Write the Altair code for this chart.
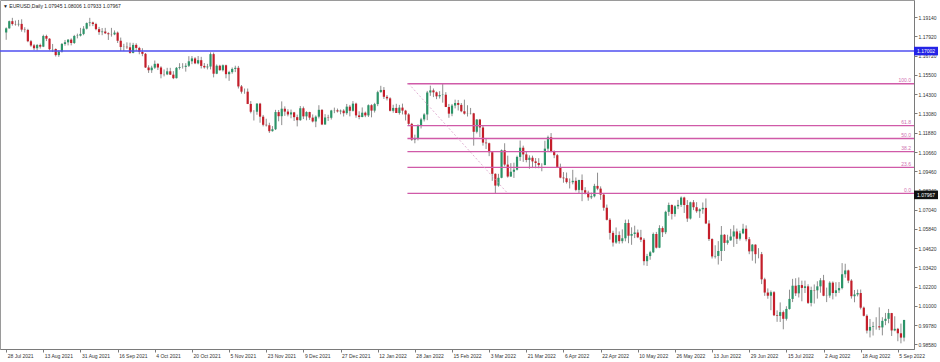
import altair as alt
import pandas as pd

# ---- EURUSD daily candles (open, high, low, close), 28 Jul 2021 .. 7 Sep 2022 ----
jul21 = [
    (1.1817, 1.1849, 1.1771, 1.1843), (1.1843, 1.1892, 1.1841, 1.1888), (1.1888, 1.1909, 1.1860, 1.1870),
]
aug21 = [
    (1.1870, 1.1892, 1.1860, 1.1868), (1.1868, 1.1896, 1.1855, 1.1871), (1.1871, 1.1900, 1.1822, 1.1835),
    (1.1835, 1.1850, 1.1817, 1.1833), (1.1833, 1.1840, 1.1756, 1.1762), (1.1762, 1.1770, 1.1727, 1.1736),
    (1.1736, 1.1745, 1.1706, 1.1718), (1.1718, 1.1745, 1.1704, 1.1738), (1.1738, 1.1747, 1.1716, 1.1728),
    (1.1728, 1.1803, 1.1725, 1.1795), (1.1795, 1.1803, 1.1763, 1.1778), (1.1778, 1.1781, 1.1705, 1.1712),
    (1.1712, 1.1745, 1.1694, 1.1713), (1.1713, 1.1717, 1.1666, 1.1675), (1.1675, 1.1705, 1.1664, 1.1697),
    (1.1697, 1.1751, 1.1691, 1.1745), (1.1745, 1.1770, 1.1734, 1.1755), (1.1755, 1.1775, 1.1736, 1.1772),
    (1.1772, 1.1780, 1.1736, 1.1751), (1.1751, 1.1802, 1.1745, 1.1795), (1.1795, 1.1810, 1.1780, 1.1797),
    (1.1797, 1.1846, 1.1792, 1.1808),
]
sep21 = [
    (1.1808, 1.1857, 1.1800, 1.1841), (1.1841, 1.1880, 1.1836, 1.1876), (1.1876, 1.1909, 1.1856, 1.1880),
    (1.1880, 1.1885, 1.1857, 1.1870), (1.1870, 1.1878, 1.1831, 1.1838), (1.1838, 1.1852, 1.1802, 1.1819),
    (1.1819, 1.1845, 1.1800, 1.1823), (1.1823, 1.1846, 1.1807, 1.1812), (1.1812, 1.1818, 1.1770, 1.1806),
    (1.1806, 1.1846, 1.1791, 1.1805), (1.1805, 1.1830, 1.1800, 1.1816), (1.1816, 1.1823, 1.1751, 1.1765),
    (1.1765, 1.1785, 1.1700, 1.1726), (1.1726, 1.1746, 1.1700, 1.1727), (1.1727, 1.1755, 1.1713, 1.1724),
    (1.1724, 1.1753, 1.1684, 1.1689), (1.1689, 1.1752, 1.1686, 1.1739), (1.1739, 1.1749, 1.1701, 1.1720),
    (1.1720, 1.1727, 1.1680, 1.1695), (1.1695, 1.1718, 1.1668, 1.1683), (1.1683, 1.1688, 1.1594, 1.1597),
    (1.1597, 1.1611, 1.1563, 1.1580),
]
oct21 = [
    (1.1580, 1.1608, 1.1563, 1.1596), (1.1596, 1.1641, 1.1588, 1.1620), (1.1620, 1.1624, 1.1581, 1.1597),
    (1.1597, 1.1605, 1.1529, 1.1555), (1.1555, 1.1585, 1.1541, 1.1554), (1.1554, 1.1595, 1.1549, 1.1573),
    (1.1573, 1.1595, 1.1550, 1.1552), (1.1552, 1.1574, 1.1524, 1.1530), (1.1530, 1.1600, 1.1528, 1.1595),
    (1.1595, 1.1624, 1.1584, 1.1600), (1.1600, 1.1624, 1.1590, 1.1601), (1.1601, 1.1624, 1.1571, 1.1608),
    (1.1608, 1.1668, 1.1600, 1.1636), (1.1636, 1.1669, 1.1618, 1.1654), (1.1654, 1.1662, 1.1618, 1.1623),
    (1.1623, 1.1669, 1.1617, 1.1643), (1.1643, 1.1664, 1.1591, 1.1607), (1.1607, 1.1625, 1.1590, 1.1598),
    (1.1598, 1.1620, 1.1585, 1.1603), (1.1603, 1.1692, 1.1585, 1.1681), (1.1681, 1.1691, 1.1535, 1.1558),
]
nov21 = [
    (1.1558, 1.1616, 1.1555, 1.1608), (1.1608, 1.1614, 1.1577, 1.1580), (1.1580, 1.1616, 1.1572, 1.1611),
    (1.1611, 1.1615, 1.1529, 1.1555), (1.1555, 1.1576, 1.1513, 1.1568), (1.1568, 1.1597, 1.1558, 1.1588),
    (1.1588, 1.1608, 1.1568, 1.1595), (1.1595, 1.1607, 1.1465, 1.1478), (1.1478, 1.1487, 1.1433, 1.1445),
    (1.1445, 1.1465, 1.1432, 1.1445), (1.1445, 1.1465, 1.1367, 1.1368), (1.1368, 1.1386, 1.1309, 1.1319),
    (1.1319, 1.1329, 1.1264, 1.1319), (1.1319, 1.1373, 1.1300, 1.1370), (1.1370, 1.1375, 1.1250, 1.1288),
    (1.1288, 1.1299, 1.1227, 1.1237), (1.1237, 1.1275, 1.1226, 1.1234), (1.1234, 1.1250, 1.1186, 1.1197),
    (1.1197, 1.1229, 1.1194, 1.1209), (1.1209, 1.1331, 1.1204, 1.1317), (1.1317, 1.1330, 1.1259, 1.1291),
    (1.1291, 1.1384, 1.1235, 1.1338),
]
dec21 = [
    (1.1338, 1.1353, 1.1293, 1.1320), (1.1320, 1.1335, 1.1290, 1.1302), (1.1302, 1.1333, 1.1278, 1.1315),
    (1.1315, 1.1318, 1.1261, 1.1285), (1.1285, 1.1301, 1.1227, 1.1266), (1.1266, 1.1355, 1.1262, 1.1341),
    (1.1341, 1.1352, 1.1273, 1.1290), (1.1290, 1.1322, 1.1265, 1.1317), (1.1317, 1.1319, 1.1268, 1.1282),
    (1.1282, 1.1302, 1.1252, 1.1258), (1.1258, 1.1296, 1.1222, 1.1288), (1.1288, 1.1360, 1.1277, 1.1331),
    (1.1331, 1.1335, 1.1235, 1.1239), (1.1239, 1.1304, 1.1237, 1.1283), (1.1283, 1.1300, 1.1261, 1.1281),
    (1.1281, 1.1331, 1.1270, 1.1327), (1.1327, 1.1345, 1.1310, 1.1328), (1.1328, 1.1339, 1.1314, 1.1321),
    (1.1321, 1.1333, 1.1303, 1.1326), (1.1326, 1.1335, 1.1289, 1.1310), (1.1310, 1.1368, 1.1300, 1.1351),
    (1.1351, 1.1362, 1.1290, 1.1325), (1.1325, 1.1386, 1.1320, 1.1370),
]
jan22 = [
    (1.1370, 1.1376, 1.1281, 1.1296), (1.1296, 1.1322, 1.1272, 1.1286), (1.1286, 1.1346, 1.1284, 1.1313),
    (1.1313, 1.1320, 1.1285, 1.1296), (1.1296, 1.1365, 1.1286, 1.1360), (1.1360, 1.1366, 1.1284, 1.1326),
    (1.1326, 1.1375, 1.1314, 1.1367), (1.1367, 1.1451, 1.1354, 1.1442), (1.1442, 1.1482, 1.1439, 1.1456),
    (1.1456, 1.1474, 1.1399, 1.1413), (1.1413, 1.1424, 1.1390, 1.1403), (1.1403, 1.1410, 1.1321, 1.1325),
    (1.1325, 1.1363, 1.1313, 1.1343), (1.1343, 1.1369, 1.1311, 1.1311), (1.1311, 1.1362, 1.1301, 1.1345),
    (1.1345, 1.1370, 1.1302, 1.1326), (1.1326, 1.1331, 1.1264, 1.1302), (1.1302, 1.1310, 1.1235, 1.1243),
    (1.1243, 1.1249, 1.1136, 1.1144), (1.1144, 1.1175, 1.1121, 1.1148), (1.1148, 1.1240, 1.1139, 1.1235),
]
feb22 = [
    (1.1235, 1.1281, 1.1214, 1.1271), (1.1271, 1.1310, 1.1258, 1.1302), (1.1302, 1.1450, 1.1266, 1.1440),
    (1.1440, 1.1483, 1.1419, 1.1453), (1.1453, 1.1465, 1.1411, 1.1441), (1.1441, 1.1446, 1.1398, 1.1416),
    (1.1416, 1.1448, 1.1402, 1.1424), (1.1424, 1.1495, 1.1376, 1.1426), (1.1426, 1.1442, 1.1348, 1.1349),
    (1.1349, 1.1368, 1.1281, 1.1307), (1.1307, 1.1368, 1.1291, 1.1358), (1.1358, 1.1395, 1.1340, 1.1374),
    (1.1374, 1.1393, 1.1327, 1.1362), (1.1362, 1.1374, 1.1316, 1.1322), (1.1322, 1.1395, 1.1301, 1.1307),
    (1.1307, 1.1360, 1.1289, 1.1308), (1.1308, 1.1343, 1.1302, 1.1309), (1.1309, 1.1312, 1.1106, 1.1193),
    (1.1193, 1.1273, 1.1183, 1.1270), (1.1270, 1.1274, 1.1160, 1.1220),
]
mar22 = [
    (1.1220, 1.1234, 1.1106, 1.1125), (1.1125, 1.1152, 1.1085, 1.1121), (1.1121, 1.1125, 1.1040, 1.1065),
    (1.1065, 1.1067, 1.0885, 1.0929), (1.0929, 1.0932, 1.0806, 1.0855), (1.0855, 1.0929, 1.0848, 1.0904),
    (1.0904, 1.1082, 1.0901, 1.1077), (1.1077, 1.1121, 1.0976, 1.0987), (1.0987, 1.1043, 1.0905, 1.0912),
    (1.0912, 1.0996, 1.0910, 1.0942), (1.0942, 1.0999, 1.0903, 1.0955), (1.0955, 1.1043, 1.0950, 1.1035),
    (1.1035, 1.1138, 1.1010, 1.1093), (1.1093, 1.1106, 1.1004, 1.1051), (1.1051, 1.1070, 1.1001, 1.1016),
    (1.1016, 1.1045, 1.0961, 1.1030), (1.1030, 1.1043, 1.0965, 1.1007), (1.1007, 1.1028, 1.0964, 1.0997),
    (1.0997, 1.1027, 1.0964, 1.0984), (1.0984, 1.0995, 1.0945, 1.0984), (1.0984, 1.1137, 1.0983, 1.1087),
    (1.1087, 1.1169, 1.1066, 1.1159), (1.1159, 1.1185, 1.1064, 1.1067),
]
apr22 = [
    (1.1067, 1.1076, 1.1027, 1.1046), (1.1046, 1.1054, 1.0967, 1.0972), (1.0972, 1.0993, 1.0901, 1.0905),
    (1.0905, 1.0940, 1.0873, 1.0901), (1.0901, 1.0937, 1.0868, 1.0877), (1.0877, 1.0900, 1.0837, 1.0876),
    (1.0876, 1.0954, 1.0863, 1.0885), (1.0885, 1.0906, 1.0819, 1.0828), (1.0828, 1.0892, 1.0806, 1.0890),
    (1.0890, 1.0925, 1.0757, 1.0826), (1.0826, 1.0845, 1.0800, 1.0810), (1.0810, 1.0823, 1.0760, 1.0781),
    (1.0781, 1.0811, 1.0770, 1.0788), (1.0788, 1.0866, 1.0781, 1.0853), (1.0853, 1.0936, 1.0826, 1.0836),
    (1.0836, 1.0850, 1.0766, 1.0798), (1.0798, 1.0808, 1.0697, 1.0716), (1.0716, 1.0736, 1.0636, 1.0640),
    (1.0640, 1.0650, 1.0516, 1.0558), (1.0558, 1.0571, 1.0472, 1.0497), (1.0497, 1.0592, 1.0489, 1.0544),
]
may22 = [
    (1.0544, 1.0567, 1.0490, 1.0506), (1.0506, 1.0580, 1.0492, 1.0524), (1.0524, 1.0641, 1.0505, 1.0620),
    (1.0620, 1.0642, 1.0493, 1.0540), (1.0540, 1.0593, 1.0483, 1.0551), (1.0551, 1.0603, 1.0525, 1.0560),
    (1.0560, 1.0579, 1.0525, 1.0530), (1.0530, 1.0577, 1.0500, 1.0515), (1.0515, 1.0526, 1.0354, 1.0380),
    (1.0380, 1.0426, 1.0350, 1.0412), (1.0412, 1.0445, 1.0389, 1.0436), (1.0436, 1.0560, 1.0431, 1.0551),
    (1.0551, 1.0564, 1.0460, 1.0465), (1.0465, 1.0606, 1.0462, 1.0588), (1.0588, 1.0599, 1.0532, 1.0562),
    (1.0562, 1.0697, 1.0550, 1.0690), (1.0690, 1.0748, 1.0665, 1.0733), (1.0733, 1.0737, 1.0642, 1.0677),
    (1.0677, 1.0732, 1.0660, 1.0725), (1.0725, 1.0765, 1.0707, 1.0734), (1.0734, 1.0787, 1.0721, 1.0780),
    (1.0780, 1.0785, 1.0683, 1.0733),
]
jun22 = [
    (1.0733, 1.0764, 1.0627, 1.0648), (1.0648, 1.0754, 1.0642, 1.0750), (1.0750, 1.0764, 1.0701, 1.0719),
    (1.0719, 1.0751, 1.0684, 1.0694), (1.0694, 1.0712, 1.0652, 1.0706), (1.0706, 1.0749, 1.0678, 1.0715),
    (1.0715, 1.0774, 1.0613, 1.0617), (1.0617, 1.0637, 1.0507, 1.0519), (1.0519, 1.0524, 1.0397, 1.0410),
    (1.0410, 1.0480, 1.0397, 1.0413), (1.0413, 1.0506, 1.0359, 1.0444), (1.0444, 1.0601, 1.0381, 1.0546),
    (1.0546, 1.0550, 1.0444, 1.0495), (1.0495, 1.0546, 1.0484, 1.0511), (1.0511, 1.0583, 1.0508, 1.0535),
    (1.0535, 1.0606, 1.0470, 1.0567), (1.0567, 1.0585, 1.0488, 1.0521), (1.0521, 1.0571, 1.0510, 1.0555),
    (1.0555, 1.0615, 1.0550, 1.0584), (1.0584, 1.0605, 1.0505, 1.0518), (1.0518, 1.0532, 1.0424, 1.0442),
    (1.0442, 1.0488, 1.0383, 1.0484),
]
jul22 = [
    (1.0484, 1.0486, 1.0366, 1.0424), (1.0424, 1.0462, 1.0398, 1.0424), (1.0424, 1.0438, 1.0236, 1.0266),
    (1.0266, 1.0276, 1.0162, 1.0183), (1.0183, 1.0209, 1.0144, 1.0163), (1.0163, 1.0196, 1.0072, 1.0185),
    (1.0185, 1.0192, 1.0035, 1.0040), (1.0040, 1.0071, 0.9999, 1.0036), (1.0036, 1.0121, 0.9998, 1.0060),
    (1.0060, 1.0070, 0.9952, 1.0018), (1.0018, 1.0097, 1.0007, 1.0080), (1.0080, 1.0201, 1.0076, 1.0143),
    (1.0143, 1.0269, 1.0123, 1.0226), (1.0226, 1.0273, 1.0161, 1.0178), (1.0178, 1.0278, 1.0152, 1.0230),
    (1.0230, 1.0258, 1.0128, 1.0212), (1.0212, 1.0258, 1.0180, 1.0222), (1.0222, 1.0235, 1.0111, 1.0118),
    (1.0118, 1.0220, 1.0096, 1.0199), (1.0199, 1.0234, 1.0114, 1.0197), (1.0197, 1.0254, 1.0145, 1.0222),
]
aug22 = [
    (1.0222, 1.0274, 1.0182, 1.0260), (1.0260, 1.0294, 1.0160, 1.0163), (1.0163, 1.0214, 1.0123, 1.0164),
    (1.0164, 1.0254, 1.0150, 1.0245), (1.0245, 1.0253, 1.0140, 1.0180), (1.0180, 1.0248, 1.0158, 1.0197),
    (1.0197, 1.0249, 1.0180, 1.0211), (1.0211, 1.0368, 1.0203, 1.0298), (1.0298, 1.0364, 1.0276, 1.0322),
    (1.0322, 1.0327, 1.0242, 1.0258), (1.0258, 1.0267, 1.0145, 1.0160), (1.0160, 1.0199, 1.0122, 1.0171),
    (1.0171, 1.0202, 1.0159, 1.0180), (1.0180, 1.0202, 1.0077, 1.0088), (1.0088, 1.0095, 1.0033, 1.0037),
    (1.0037, 1.0046, 0.9926, 0.9944), (0.9944, 1.0017, 0.9901, 0.9967), (0.9967, 0.9999, 0.9913, 0.9971),
    (0.9971, 1.0028, 0.9950, 0.9971), (0.9971, 1.0090, 0.9947, 0.9964), (0.9964, 1.0028, 0.9914, 1.0005),
    (1.0005, 1.0055, 0.9978, 1.0018), (1.0018, 1.0080, 0.9990, 1.0054),
]
sep22 = [
    (1.0054, 1.0055, 0.9910, 0.9945), (0.9945, 1.0034, 0.9940, 0.9955), (0.9955, 0.9961, 0.9877, 0.9927),
    (0.9927, 0.9988, 0.9864, 0.9900), (0.9900, 1.0011, 0.9876, 1.0011),
]

x_tick_index = [0, 12, 24, 36, 48, 60, 72, 84, 96, 108, 120, 132, 144, 156, 168, 180,
                192, 204, 216, 228, 240, 252, 264, 276, 288]
x_tick_labels = ["28 Jul 2021", "13 Aug 2021", "31 Aug 2021", "16 Sep 2021", "4 Oct 2021",
                 "20 Oct 2021", "5 Nov 2021", "23 Nov 2021", "9 Dec 2021", "27 Dec 2021",
                 "12 Jan 2022", "28 Jan 2022", "15 Feb 2022", "3 Mar 2022", "21 Mar 2022",
                 "6 Apr 2022", "22 Apr 2022", "10 May 2022", "26 May 2022", "13 Jun 2022",
                 "29 Jun 2022", "15 Jul 2022", "2 Aug 2022", "18 Aug 2022", "5 Sep 2022"]
y_tick_values = [1.19140, 1.17920, 1.16720, 1.15500, 1.14300, 1.13080, 1.11880, 1.10660,
                 1.09460, 1.08240, 1.07040, 1.05840, 1.04620, 1.03420, 1.02200, 1.01000,
                 0.99780, 0.98580]

blue_level = [1.17002]
blue_label = ["1.17002"]
bid_level = [1.07967]
bid_label = ["1.07967"]

fib_labels = ["100.0", "61.8", "50.0", "38.2", "23.6", "0.0"]
fib_prices = [1.1495, 1.1232, 1.1151, 1.1069, 1.0969, 1.0806]
fib_start = [129.6]
fib_diag_index = [130, 162]
fib_diag_price = [1.1495, 1.0806]

title_text = "\u25BC EURUSD,Daily  1.07945 1.08006 1.07933 1.07967"

# ---- build tables ----
months = [jul21, aug21, sep21, oct21, nov21, dec21, jan22, feb22, mar22, apr22,
          may22, jun22, jul22, aug22, sep22]
rows = [r for m in months for r in m]
candles = pd.DataFrame(rows, columns=["open", "high", "low", "close"])
candles["i"] = list(range(len(candles)))

GREEN = "#2c9468"
RED = "#c41e2a"
WICK = "#8e8e8e"
PINK = "#d05aa8"
FONT = "Liberation Sans"

X_SCALE = alt.Scale(domain=[-0.38, 291.6], nice=False, zero=False)
Y_SCALE = alt.Scale(domain=[0.98283, 1.20211], nice=False, zero=False)

label_js = "[" + ",".join("'" + s + "'" for s in x_tick_labels) + "]"
X_AXIS = alt.Axis(values=x_tick_index, labelExpr=label_js + "[round(datum.value/12)]",
                  title=None, grid=False, labelAlign="left", labelFlush=False,
                  labelOverlap=False, labelPadding=1, labelOffset=1, tickSize=3)
Y_AXIS = alt.Axis(orient="right", values=y_tick_values, format=".5f", title=None,
                  grid=False, labelOverlap=False, labelFlush=False, tickSize=3,
                  labelPadding=1, labelAlign="left", labelBaseline="middle")

def X(f):
    return alt.X(f, scale=X_SCALE, axis=X_AXIS)

def Y(f):
    return alt.Y(f, scale=Y_SCALE, axis=Y_AXIS)

wicks = alt.Chart(candles).mark_rule(color=WICK, strokeWidth=1).encode(
    x=X("i:Q"), y=Y("low:Q"), y2="high:Q")

bodies = alt.Chart(candles).transform_calculate(
    dir="datum.close >= datum.open ? 'up' : 'down'"
).mark_bar(size=2.2).encode(
    x=X("i:Q"), y=Y("open:Q"), y2="close:Q",
    color=alt.Color("dir:N", scale=alt.Scale(domain=["up", "down"], range=[GREEN, RED]),
                    legend=None))

blue_df = pd.DataFrame({"price": blue_level, "label": blue_label})
bid_df = pd.DataFrame({"price": bid_level, "label": bid_label})
fib_df = pd.DataFrame({"level": fib_labels, "price": fib_prices,
                       "start": fib_start * len(fib_labels)})
diag_df = pd.DataFrame({"i": fib_diag_index, "price": fib_diag_price})

blue_line = alt.Chart(blue_df).mark_rule(color="#4f4ff0", strokeWidth=1.5).encode(
    y=Y("price:Q"))

fib_lines = alt.Chart(fib_df).mark_rule(color=PINK, strokeWidth=1.3).encode(
    x=X("start:Q"), x2=alt.value(914), y=Y("price:Q"))

fib_text = alt.Chart(fib_df).mark_text(
    align="right", baseline="bottom", dy=-0.5, fontSize=5, font=FONT, color="#cf6fb0"
).encode(x=alt.value(911), y=Y("price:Q"), text="level:N")

diag = alt.Chart(diag_df).mark_line(color="#d9a0c8", strokeWidth=0.8, strokeDash=[2, 2]).encode(
    x=X("i:Q"), y=Y("price:Q"))

def price_box(df, fill):
    rect = alt.Chart(df).transform_calculate(
        lo="datum.price - 0.0027", hi="datum.price + 0.0027"
    ).mark_rect(color=fill).encode(
        x=alt.value(914), x2=alt.value(938), y=Y("lo:Q"), y2="hi:Q")
    txt = alt.Chart(df).mark_text(
        align="left", baseline="middle", fontSize=5, font=FONT, color="white"
    ).encode(x=alt.value(917), y=Y("price:Q"), text="label:N")
    return rect + txt

blue_box = price_box(blue_df, "#2424e6")
bid_box = price_box(bid_df, "#111111")

title_df = pd.DataFrame({"t": [title_text]})
title = alt.Chart(title_df).mark_text(
    align="left", baseline="middle", fontSize=5, font=FONT, color="#222222"
).encode(x=alt.value(3), y=alt.value(6), text="t:N")

chart = alt.layer(
    wicks, bodies, blue_line, fib_lines, diag, fib_text, blue_box, bid_box, title
).properties(
    width=914, height=349,
    padding={"left": 0, "top": 0, "right": 26, "bottom": 13},
    autosize=alt.AutoSizeParams(type="none"),
    background="white",
).configure_view(
    stroke="#9a9a9a", strokeWidth=1
).configure_axis(
    labelFont=FONT, labelFontSize=5, labelColor="#333333",
    domainColor="#7a7a7a", tickColor="#7a7a7a", domainWidth=1, tickWidth=1
)

chart.save("out.html", embed_options={"renderer": "svg", "actions": False})
